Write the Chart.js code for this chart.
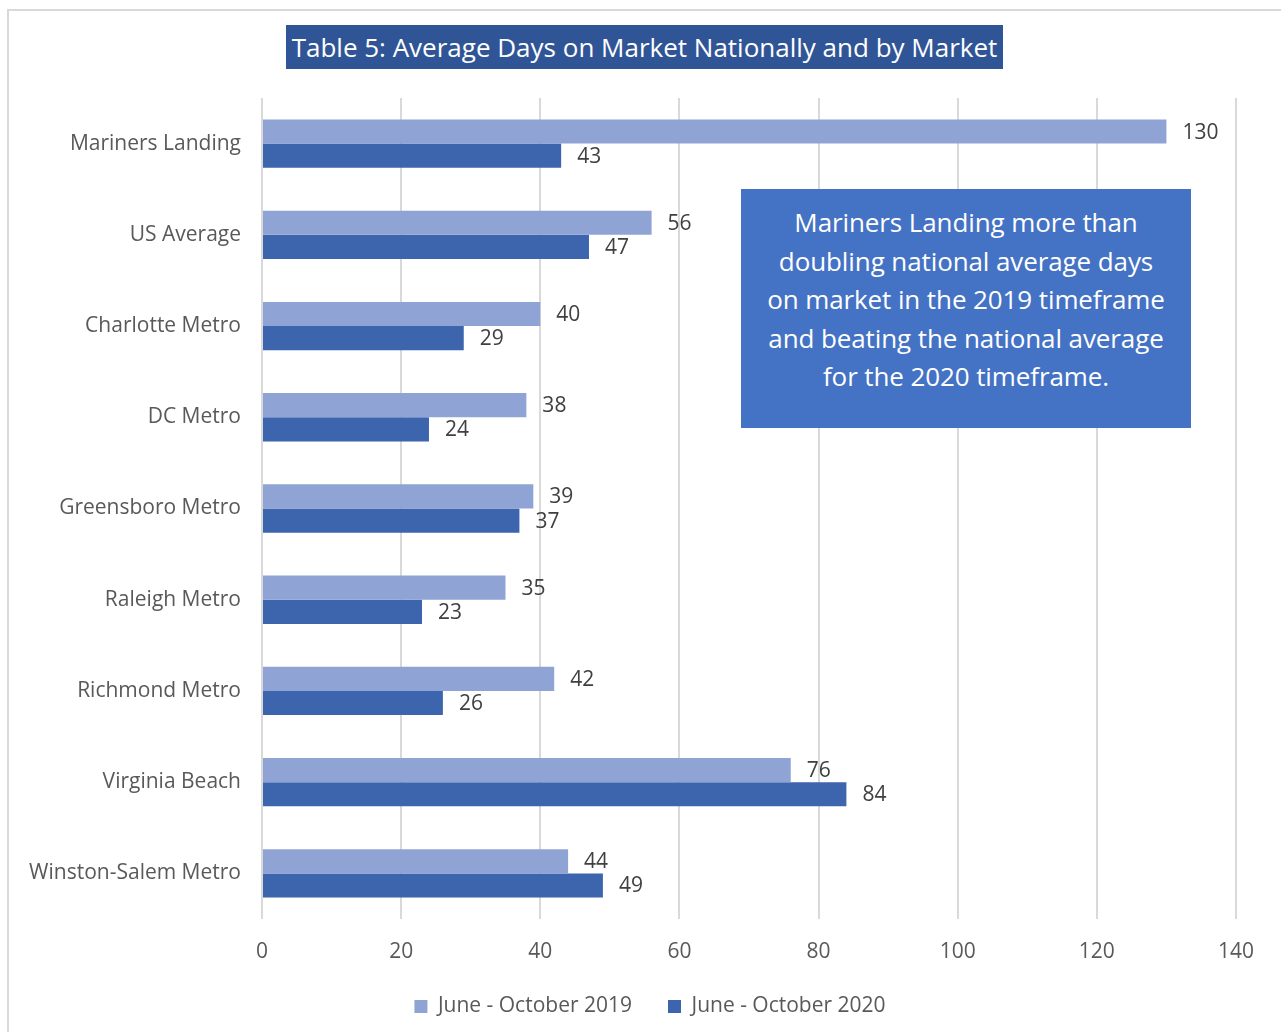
<!DOCTYPE html>
<html>
<head>
<meta charset="utf-8">
<script src="https://cdn.jsdelivr.net/npm/chart.js@4"></script>
<style>
  body { margin: 0; background: #fff; }
  #wrap { position: relative; width: 1281px; height: 1032px; overflow: hidden; }
  #frame {
    position: absolute; left: 7px; top: 9px; width: 1290px; height: 1040px;
    border: 2px solid #d9d9d9; box-sizing: border-box;
  }
  #title {
    position: absolute; left: 286px; top: 25px; width: 717px; height: 44px;
    background: #2f5597; color: #fff; font: 26px "Open Sans", sans-serif;
    line-height: 44px; text-align: center;
  }
  #note {
    position: absolute; left: 741px; top: 189px; width: 450px; height: 239px;
    background: #4472c4; color: #fff; font: 26px "Open Sans", sans-serif;
    line-height: 38.5px; text-align: center; box-sizing: border-box; padding-top: 14px;
    letter-spacing: -0.1px;
  }
  canvas { position: absolute; left: 0; top: 0; }
</style>
</head>
<body>
<div id="wrap">
  <div id="frame"></div>
  <canvas id="daysChart" width="1281" height="1032"></canvas>
  <div id="title">Table 5: Average Days on Market Nationally and by Market</div>
  <div id="note">Mariners Landing more than<br>doubling national average days<br>on market in the 2019 timeframe<br>and beating the national average<br>for the 2020 timeframe.</div>
</div>
<script>
const markets = [
    "Mariners Landing",
    "US Average",
    "Charlotte Metro",
    "DC Metro",
    "Greensboro Metro",
    "Raleigh Metro",
    "Richmond Metro",
    "Virginia Beach",
    "Winston-Salem Metro",
];
const days2019 = [130, 56, 40, 38, 39, 35, 42, 76, 44];
const days2020 = [43, 47, 29, 24, 37, 23, 26, 84, 49];
const xTicks = [0, 20, 40, 60, 80, 100, 120, 140];

// value labels just past the end of each bar
const barLabels = {
    id: "barLabels",
    afterDatasetsDraw(chart) {
        const ctx = chart.ctx;
        ctx.save();
        ctx.font = '21px "Open Sans", sans-serif';
        ctx.fillStyle = "#404040";
        ctx.textAlign = "left";
        ctx.textBaseline = "middle";
        chart.data.datasets.forEach((ds, i) => {
            chart.getDatasetMeta(i).data.forEach((bar, j) => {
                ctx.fillText(ds.data[j], bar.x + 16, bar.y + 1);
            });
        });
        ctx.restore();
    },
};

// the legend sits a little right of the canvas centre in the original
const legendShift = {
    id: "legendShift",
    beforeDraw(chart) {
        if (!chart.legend.shifted) {
            chart.legend.left += 32;
            chart.legend.right += 32;
            chart.legend.shifted = true;
        }
    },
    afterLayout(chart) {
        chart.legend.shifted = false;
    },
};

Chart.defaults.font.family = '"Open Sans", sans-serif';
Chart.defaults.color = "#595959";

new Chart(document.getElementById("daysChart").getContext("2d"), {
    type: "bar",
    data: {
        labels: markets,
        datasets: [
            {
                label: "June - October 2019",
                data: days2019,
                backgroundColor: "#8fa3d5",
                barPercentage: 1,
                categoryPercentage: 0.53,
            },
            {
                label: "June - October 2020",
                data: days2020,
                backgroundColor: "#3c65ae",
                barPercentage: 1,
                categoryPercentage: 0.53,
            },
        ],
    },
    options: {
        indexAxis: "y",
        responsive: false,
        animation: false,
        layout: {
            padding: { top: 98, left: 0, right: 45, bottom: 5 },
        },
        scales: {
            x: {
                min: 0,
                max: 140,
                afterBuildTicks: (scale) => {
                    scale.ticks = xTicks.map((v) => ({ value: v }));
                },
                afterFit: (scale) => {
                    scale.height = 41;
                },
                grid: { color: "#d9d9d9", lineWidth: 2, drawTicks: false },
                border: { display: false },
                ticks: { font: { size: 21 }, padding: 20 },
            },
            y: {
                afterFit: (scale) => {
                    scale.width = 262;
                },
                grid: { display: false },
                border: { display: false },
                ticks: { font: { size: 21 }, padding: 13 },
            },
        },
        plugins: {
            legend: {
                position: "bottom",
                labels: {
                    font: { size: 21 },
                    boxWidth: 13,
                    boxHeight: 13,
                    padding: 36,
                },
            },
            tooltip: { enabled: false },
        },
    },
    plugins: [barLabels, legendShift],
});
</script>
</body>
</html>
